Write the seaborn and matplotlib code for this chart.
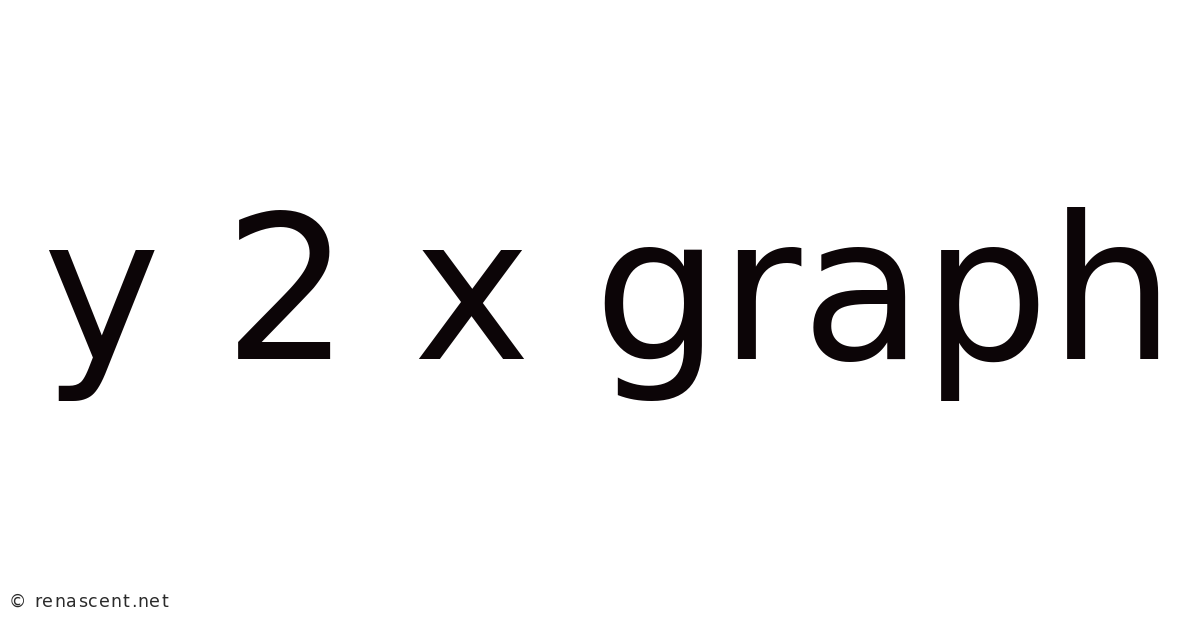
import matplotlib
matplotlib.use("Agg")
import matplotlib.pyplot as plt
import seaborn as sns

title_words = ["y", "2", "x", "graph"]
footer_text = "© renascent.net"

sns.set_theme(style="white")
plt.rcParams['font.family'] = ['DejaVu Sans']

W, H = 1200, 628
fig = plt.figure(figsize=(W / 100, H / 100), dpi=100)
ax = fig.add_axes([0, 0, 1, 1])
ax.set_axis_off()

# big heading
fig.text(609 / W, 1 - 359 / H, " ".join(title_words), ha="center", va="baseline",
         fontsize=143, color="#0c0507")

# footer, drawn char by char for a little letter spacing
renderer = fig.canvas.get_renderer()
tracking = 1.1
x0 = 9
for i, ch in enumerate(footer_text):
    if i > 0:
        probe = fig.text(0, 0, footer_text[:i], fontsize=12.5)
        w = probe.get_window_extent(renderer).width
        probe.remove()
    else:
        w = 0
    fig.text((x0 + w + i * tracking) / W, 1 - 607 / H, ch, ha="left", va="baseline",
             fontsize=12.5, color="#2a2a2a")

fig.savefig("out.png", dpi=100, facecolor="white")
